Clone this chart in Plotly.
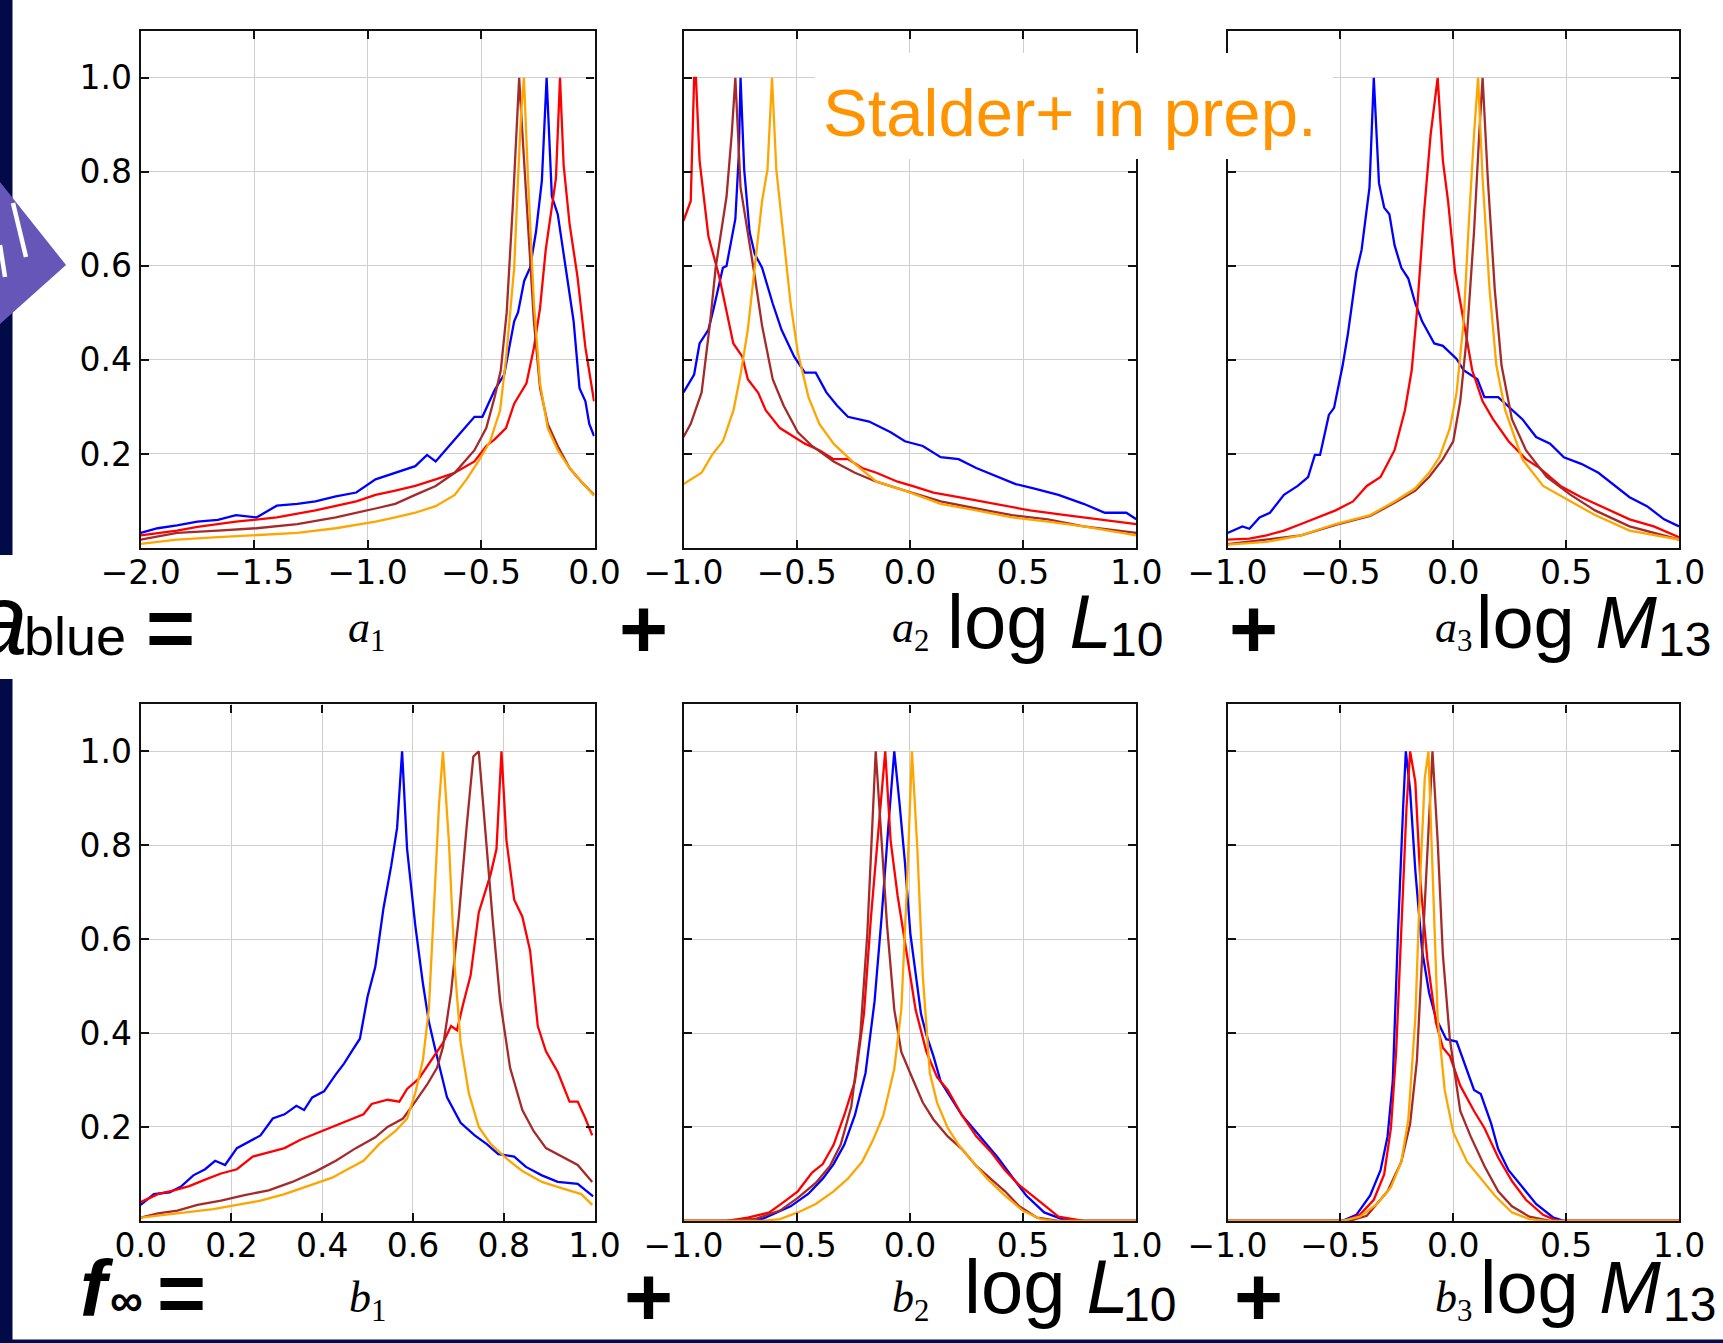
import plotly.graph_objects as go

W, H = 1723, 1343

# ---------------- data ----------------
# panel a1
a1_blue_x = [-2.0, -1.925, -1.84, -1.75, -1.66, -1.58, -1.49, -1.40, -1.31, -1.23, -1.14, -1.05, -0.965, -0.878, -0.79, -0.738, -0.70, -0.616, -0.529, -0.494, -0.44, -0.398, -0.37, -0.354, -0.337, -0.31, -0.284, -0.258, -0.232, -0.211, -0.188, -0.162, -0.127, -0.092, -0.066, -0.04, -0.023, -0.002]
a1_blue_y = [0.032, 0.042, 0.048, 0.056, 0.060, 0.070, 0.065, 0.090, 0.094, 0.099, 0.110, 0.118, 0.146, 0.160, 0.174, 0.198, 0.184, 0.231, 0.279, 0.279, 0.336, 0.369, 0.445, 0.482, 0.501, 0.568, 0.596, 0.672, 0.781, 1.0, 0.748, 0.710, 0.596, 0.482, 0.340, 0.312, 0.264, 0.238]
a1_red_x = [-2.0, -1.925, -1.84, -1.75, -1.58, -1.40, -1.23, -1.05, -0.965, -0.878, -0.79, -0.70, -0.616, -0.529, -0.477, -0.44, -0.39, -0.354, -0.30, -0.267, -0.24, -0.215, -0.188, -0.17, -0.152, -0.136, -0.11, -0.075, -0.04, -0.002]
a1_red_y = [0.027, 0.032, 0.037, 0.045, 0.056, 0.065, 0.080, 0.099, 0.113, 0.122, 0.132, 0.146, 0.160, 0.184, 0.217, 0.231, 0.255, 0.307, 0.350, 0.426, 0.510, 0.634, 0.720, 0.786, 1.0, 0.814, 0.690, 0.577, 0.426, 0.312]
a1_brown_x = [-2.0, -1.84, -1.66, -1.49, -1.31, -1.14, -0.965, -0.878, -0.79, -0.70, -0.616, -0.529, -0.477, -0.44, -0.413, -0.387, -0.36, -0.345, -0.332, -0.32, -0.293, -0.267, -0.24, -0.206, -0.162, -0.11, -0.058, -0.002]
a1_brown_y = [0.018, 0.032, 0.037, 0.042, 0.051, 0.065, 0.084, 0.094, 0.113, 0.132, 0.160, 0.208, 0.255, 0.321, 0.378, 0.501, 0.728, 0.862, 1.0, 0.900, 0.690, 0.482, 0.340, 0.264, 0.217, 0.170, 0.141, 0.113]
a1_orange_x = [-2.0, -1.84, -1.66, -1.49, -1.31, -1.14, -0.965, -0.878, -0.79, -0.70, -0.616, -0.564, -0.512, -0.46, -0.416, -0.389, -0.354, -0.337, -0.323, -0.311, -0.293, -0.267, -0.24, -0.206, -0.162, -0.11, -0.058, -0.002]
a1_orange_y = [0.009, 0.018, 0.023, 0.027, 0.032, 0.042, 0.056, 0.065, 0.075, 0.089, 0.113, 0.146, 0.184, 0.227, 0.293, 0.407, 0.596, 0.786, 0.928, 1.0, 0.786, 0.520, 0.350, 0.255, 0.208, 0.170, 0.141, 0.111]

# panel a2
a2_blue_x = [-1.0, -0.953, -0.929, -0.89, -0.866, -0.826, -0.81, -0.771, -0.756, -0.748, -0.732, -0.708, -0.685, -0.653, -0.606, -0.567, -0.511, -0.464, -0.416, -0.369, -0.322, -0.274, -0.18, -0.085, -0.022, 0.057, 0.136, 0.215, 0.293, 0.388, 0.467, 0.546, 0.656, 0.767, 0.861, 0.956, 1.0]
a2_blue_y = [0.331, 0.369, 0.435, 0.464, 0.511, 0.596, 0.600, 0.700, 0.833, 1.0, 0.805, 0.672, 0.625, 0.596, 0.520, 0.464, 0.407, 0.373, 0.373, 0.331, 0.303, 0.279, 0.269, 0.246, 0.227, 0.217, 0.193, 0.189, 0.170, 0.151, 0.136, 0.127, 0.113, 0.094, 0.075, 0.075, 0.061]
a2_red_x = [-1.0, -0.968, -0.953, -0.945, -0.929, -0.89, -0.842, -0.81, -0.78, -0.74, -0.716, -0.67, -0.637, -0.574, -0.527, -0.464, -0.40, -0.337, -0.274, -0.211, -0.148, -0.054, 0.01, 0.104, 0.215, 0.372, 0.53, 0.688, 0.845, 1.0]
a2_red_y = [0.696, 0.738, 1.0, 1.0, 0.824, 0.663, 0.577, 0.501, 0.435, 0.407, 0.359, 0.330, 0.293, 0.255, 0.241, 0.222, 0.208, 0.189, 0.189, 0.170, 0.160, 0.141, 0.132, 0.118, 0.108, 0.094, 0.080, 0.070, 0.061, 0.051]
a2_brown_x = [-1.0, -0.968, -0.92, -0.882, -0.858, -0.826, -0.81, -0.787, -0.771, -0.748, -0.716, -0.685, -0.653, -0.606, -0.558, -0.495, -0.432, -0.337, -0.243, -0.148, -0.022, 0.136, 0.293, 0.451, 0.609, 0.767, 1.0]
a2_brown_y = [0.236, 0.264, 0.331, 0.482, 0.596, 0.690, 0.747, 0.880, 1.0, 0.767, 0.672, 0.577, 0.473, 0.359, 0.303, 0.246, 0.217, 0.184, 0.160, 0.141, 0.122, 0.099, 0.084, 0.070, 0.061, 0.046, 0.032]
a2_orange_x = [-1.0, -0.92, -0.874, -0.826, -0.779, -0.748, -0.716, -0.685, -0.653, -0.629, -0.609, -0.59, -0.558, -0.527, -0.495, -0.448, -0.40, -0.337, -0.243, -0.148, -0.022, 0.136, 0.293, 0.451, 0.609, 0.767, 1.0]
a2_orange_y = [0.136, 0.160, 0.198, 0.227, 0.293, 0.369, 0.464, 0.596, 0.738, 0.805, 1.0, 0.805, 0.663, 0.520, 0.416, 0.321, 0.264, 0.222, 0.179, 0.141, 0.122, 0.094, 0.080, 0.065, 0.056, 0.046, 0.027]

# panel a3
a3_blue_x = [-1.0, -0.934, -0.903, -0.858, -0.812, -0.75, -0.689, -0.643, -0.613, -0.59, -0.551, -0.528, -0.49, -0.467, -0.429, -0.406, -0.371, -0.352, -0.329, -0.306, -0.283, -0.26, -0.23, -0.199, -0.168, -0.138, -0.084, -0.046, 0.015, 0.046, 0.107, 0.138, 0.199, 0.26, 0.306, 0.367, 0.429, 0.49, 0.567, 0.643, 0.72, 0.781, 0.858, 0.934, 1.0]
a3_blue_y = [0.032, 0.046, 0.041, 0.065, 0.075, 0.113, 0.132, 0.151, 0.198, 0.198, 0.283, 0.298, 0.388, 0.454, 0.587, 0.634, 0.767, 1.0, 0.776, 0.724, 0.710, 0.644, 0.596, 0.573, 0.520, 0.482, 0.435, 0.430, 0.402, 0.378, 0.359, 0.321, 0.321, 0.293, 0.274, 0.236, 0.222, 0.193, 0.179, 0.160, 0.132, 0.108, 0.089, 0.061, 0.046]
a3_red_x = [-1.0, -0.903, -0.827, -0.75, -0.674, -0.598, -0.521, -0.444, -0.383, -0.322, -0.26, -0.214, -0.184, -0.161, -0.13, -0.10, -0.069, -0.046, -0.023, 0.008, 0.046, 0.084, 0.13, 0.176, 0.245, 0.322, 0.383, 0.475, 0.567, 0.674, 0.781, 0.888, 1.0]
a3_red_y = [0.018, 0.020, 0.027, 0.037, 0.051, 0.065, 0.080, 0.099, 0.132, 0.151, 0.208, 0.293, 0.378, 0.501, 0.710, 0.880, 1.0, 0.824, 0.738, 0.587, 0.482, 0.378, 0.312, 0.274, 0.227, 0.189, 0.170, 0.132, 0.108, 0.084, 0.061, 0.046, 0.023]
a3_brown_x = [-1.0, -0.674, -0.521, -0.368, -0.26, -0.168, -0.107, -0.046, 0.0, 0.031, 0.061, 0.092, 0.115, 0.13, 0.153, 0.184, 0.214, 0.26, 0.322, 0.414, 0.52, 0.628, 0.781, 1.0]
a3_brown_y = [0.008, 0.027, 0.049, 0.068, 0.096, 0.122, 0.151, 0.189, 0.227, 0.312, 0.454, 0.672, 0.880, 1.0, 0.786, 0.549, 0.388, 0.274, 0.208, 0.151, 0.113, 0.080, 0.046, 0.018]
a3_orange_x = [-1.0, -0.827, -0.674, -0.521, -0.368, -0.26, -0.168, -0.107, -0.061, -0.015, 0.015, 0.046, 0.069, 0.092, 0.11, 0.13, 0.161, 0.191, 0.23, 0.306, 0.398, 0.505, 0.628, 0.781, 1.0]
a3_orange_y = [0.007, 0.013, 0.027, 0.051, 0.070, 0.099, 0.127, 0.160, 0.193, 0.255, 0.331, 0.482, 0.691, 0.880, 1.0, 0.786, 0.549, 0.388, 0.293, 0.189, 0.132, 0.103, 0.070, 0.037, 0.018]

# panel b1
b1_blue_x = [0.0, 0.029, 0.064, 0.09, 0.116, 0.142, 0.164, 0.186, 0.212, 0.238, 0.264, 0.291, 0.317, 0.343, 0.36, 0.378, 0.404, 0.43, 0.448, 0.465, 0.483, 0.50, 0.517, 0.535, 0.552, 0.565, 0.576, 0.587, 0.605, 0.622, 0.635, 0.648, 0.675, 0.705, 0.736, 0.762, 0.788, 0.823, 0.849, 0.884, 0.919, 0.963, 0.997]
b1_blue_y = [0.034, 0.057, 0.061, 0.074, 0.097, 0.110, 0.128, 0.119, 0.155, 0.169, 0.182, 0.218, 0.227, 0.245, 0.236, 0.263, 0.276, 0.312, 0.335, 0.361, 0.388, 0.478, 0.541, 0.666, 0.756, 0.837, 1.0, 0.792, 0.630, 0.505, 0.424, 0.370, 0.263, 0.209, 0.182, 0.164, 0.142, 0.137, 0.115, 0.097, 0.083, 0.079, 0.052]
b1_red_x = [0.0, 0.038, 0.073, 0.107, 0.142, 0.177, 0.212, 0.247, 0.282, 0.317, 0.352, 0.387, 0.422, 0.456, 0.491, 0.509, 0.544, 0.57, 0.587, 0.613, 0.64, 0.666, 0.684, 0.697, 0.71, 0.727, 0.745, 0.771, 0.784, 0.795, 0.806, 0.823, 0.841, 0.858, 0.875, 0.893, 0.919, 0.945, 0.963, 0.98, 0.995]
b1_red_y = [0.040, 0.057, 0.065, 0.074, 0.088, 0.101, 0.110, 0.137, 0.146, 0.155, 0.173, 0.187, 0.200, 0.213, 0.227, 0.249, 0.258, 0.254, 0.281, 0.303, 0.343, 0.379, 0.415, 0.406, 0.460, 0.523, 0.657, 0.738, 0.792, 1.0, 0.810, 0.684, 0.648, 0.576, 0.415, 0.361, 0.317, 0.254, 0.254, 0.218, 0.182]
b1_brown_x = [0.0, 0.038, 0.081, 0.125, 0.177, 0.229, 0.282, 0.334, 0.387, 0.43, 0.474, 0.517, 0.544, 0.578, 0.605, 0.631, 0.653, 0.666, 0.684, 0.701, 0.718, 0.733, 0.745, 0.757, 0.775, 0.792, 0.814, 0.841, 0.866, 0.893, 0.927, 0.963, 0.995]
b1_brown_y = [0.007, 0.016, 0.022, 0.034, 0.043, 0.055, 0.065, 0.083, 0.106, 0.128, 0.155, 0.178, 0.200, 0.218, 0.254, 0.290, 0.326, 0.370, 0.487, 0.648, 0.837, 0.989, 1.0, 0.855, 0.648, 0.469, 0.326, 0.236, 0.191, 0.155, 0.137, 0.119, 0.083]
b1_orange_x = [0.0, 0.055, 0.107, 0.16, 0.212, 0.264, 0.317, 0.369, 0.422, 0.456, 0.491, 0.526, 0.561, 0.587, 0.605, 0.622, 0.635, 0.648, 0.657, 0.666, 0.679, 0.692, 0.705, 0.723, 0.745, 0.771, 0.806, 0.841, 0.884, 0.927, 0.971, 0.995]
b1_orange_y = [0.007, 0.013, 0.019, 0.025, 0.034, 0.043, 0.057, 0.074, 0.092, 0.110, 0.128, 0.164, 0.191, 0.218, 0.272, 0.343, 0.451, 0.702, 0.881, 1.0, 0.810, 0.541, 0.379, 0.272, 0.200, 0.164, 0.133, 0.106, 0.083, 0.070, 0.057, 0.034]

# panel b2
b2_blue_x = [-1.0, -0.81, -0.653, -0.527, -0.448, -0.385, -0.337, -0.29, -0.243, -0.196, -0.156, -0.125, -0.093, -0.069, -0.046, -0.022, 0.002, 0.025, 0.049, 0.073, 0.104, 0.136, 0.183, 0.23, 0.278, 0.325, 0.388, 0.451, 0.514, 0.593, 0.672, 0.767, 1.0]
b2_blue_y = [0.0, 0.0, 0.004, 0.031, 0.058, 0.090, 0.121, 0.162, 0.225, 0.315, 0.468, 0.647, 0.854, 1.0, 0.890, 0.764, 0.612, 0.522, 0.441, 0.396, 0.351, 0.297, 0.261, 0.225, 0.198, 0.171, 0.135, 0.094, 0.054, 0.018, 0.004, 0.0, 0.0]
b2_red_x = [-1.0, -0.81, -0.716, -0.621, -0.558, -0.495, -0.432, -0.385, -0.337, -0.29, -0.243, -0.203, -0.172, -0.14, -0.109, -0.085, -0.054, -0.022, 0.025, 0.073, 0.12, 0.167, 0.23, 0.293, 0.356, 0.42, 0.483, 0.577, 0.656, 0.767, 1.0]
b2_red_y = [0.0, 0.0, 0.007, 0.018, 0.040, 0.063, 0.103, 0.121, 0.162, 0.225, 0.297, 0.441, 0.647, 0.836, 1.0, 0.809, 0.692, 0.594, 0.450, 0.360, 0.306, 0.279, 0.225, 0.180, 0.148, 0.108, 0.076, 0.040, 0.009, 0.0, 0.0]
b2_brown_x = [-1.0, -0.81, -0.685, -0.574, -0.495, -0.416, -0.353, -0.306, -0.259, -0.219, -0.188, -0.151, -0.125, -0.101, -0.069, -0.038, 0.009, 0.057, 0.104, 0.167, 0.23, 0.293, 0.356, 0.42, 0.483, 0.562, 0.656, 1.0]
b2_brown_y = [0.0, 0.0, 0.004, 0.022, 0.049, 0.081, 0.117, 0.162, 0.243, 0.396, 0.612, 1.0, 0.809, 0.630, 0.450, 0.360, 0.306, 0.252, 0.216, 0.180, 0.153, 0.117, 0.090, 0.063, 0.031, 0.007, 0.0, 0.0]
b2_orange_x = [-1.0, -0.653, -0.574, -0.495, -0.416, -0.337, -0.274, -0.211, -0.164, -0.117, -0.069, -0.038, -0.014, 0.009, 0.033, 0.057, 0.088, 0.12, 0.167, 0.215, 0.278, 0.341, 0.42, 0.498, 0.577, 0.64, 1.0]
b2_orange_y = [0.0, 0.0, 0.004, 0.018, 0.036, 0.063, 0.090, 0.126, 0.171, 0.225, 0.324, 0.450, 0.701, 1.0, 0.791, 0.522, 0.315, 0.252, 0.198, 0.162, 0.126, 0.090, 0.054, 0.022, 0.004, 0.0, 0.0]

# panel b3
b3_blue_x = [-1.0, -0.49, -0.429, -0.368, -0.322, -0.291, -0.268, -0.245, -0.222, -0.21, -0.191, -0.168, -0.138, -0.107, -0.077, -0.031, 0.015, 0.046, 0.092, 0.122, 0.168, 0.199, 0.245, 0.306, 0.367, 0.444, 0.49, 1.0]
b3_blue_y = [0.0, 0.0, 0.013, 0.054, 0.108, 0.180, 0.297, 0.612, 0.881, 1.0, 0.917, 0.746, 0.576, 0.486, 0.432, 0.387, 0.382, 0.342, 0.279, 0.270, 0.207, 0.153, 0.108, 0.072, 0.036, 0.007, 0.0, 0.0]
b3_red_x = [-1.0, -0.475, -0.414, -0.352, -0.306, -0.276, -0.253, -0.23, -0.207, -0.191, -0.168, -0.145, -0.115, -0.077, -0.046, -0.015, 0.031, 0.092, 0.138, 0.199, 0.26, 0.322, 0.398, 0.46, 1.0]
b3_red_y = [0.0, 0.0, 0.013, 0.045, 0.099, 0.198, 0.360, 0.612, 0.881, 1.0, 0.935, 0.719, 0.558, 0.423, 0.369, 0.351, 0.288, 0.234, 0.198, 0.135, 0.085, 0.045, 0.013, 0.0, 0.0]
b3_brown_x = [-1.0, -0.46, -0.383, -0.291, -0.23, -0.191, -0.161, -0.138, -0.115, -0.092, -0.069, -0.046, -0.015, 0.031, 0.077, 0.138, 0.199, 0.26, 0.337, 0.429, 1.0]
b3_brown_y = [0.0, 0.0, 0.011, 0.063, 0.126, 0.207, 0.342, 0.567, 0.791, 1.0, 0.809, 0.567, 0.387, 0.234, 0.180, 0.117, 0.063, 0.031, 0.009, 0.0, 0.0]
b3_orange_x = [-1.0, -0.49, -0.414, -0.337, -0.276, -0.23, -0.199, -0.168, -0.145, -0.126, -0.11, -0.092, -0.069, -0.038, 0.0, 0.061, 0.122, 0.184, 0.26, 0.337, 0.413, 1.0]
b3_orange_y = [0.0, 0.0, 0.009, 0.036, 0.072, 0.126, 0.216, 0.432, 0.746, 0.944, 1.0, 0.764, 0.432, 0.279, 0.189, 0.126, 0.090, 0.054, 0.018, 0.004, 0.0, 0.0]

series_colors = {"blue": "#0000FF", "red": "#FF0000", "brown": "#A52A2A", "orange": "#FFA500"}

panels = [
    ("a1", [-2.0, 0.0], [-2.0, -1.5, -1.0, -0.5, 0.0]),
    ("a2", [-1.0, 1.0], [-1.0, -0.5, 0.0, 0.5, 1.0]),
    ("a3", [-1.0, 1.0], [-1.0, -0.5, 0.0, 0.5, 1.0]),
    ("b1", [0.0, 1.0], [0.0, 0.2, 0.4, 0.6, 0.8, 1.0]),
    ("b2", [-1.0, 1.0], [-1.0, -0.5, 0.0, 0.5, 1.0]),
    ("b3", [-1.0, 1.0], [-1.0, -0.5, 0.0, 0.5, 1.0]),
]
y_ticks = [0.2, 0.4, 0.6, 0.8, 1.0]

# ---------------- layout geometry ----------------
def px_x(v):
    return v / W

def px_y(v):
    return 1 - v / H

col_px = [(140.7, 594.5), (683.5, 1136.3), (1227.5, 1679.0)]
row_px = [(30.8, 548.0), (704.4, 1220.9)]

def fmt(v):
    s = f"{v:.1f}"
    return s.replace("-", "\u2212")

fig = go.Figure()
g = globals()
for i, (name, xr, xt) in enumerate(panels):
    n = i + 1
    xa = "x" if n == 1 else f"x{n}"
    ya = "y" if n == 1 else f"y{n}"
    for s in ["blue", "red", "brown", "orange"]:
        fig.add_trace(go.Scatter(
            x=g[f"{name}_{s}_x"], y=g[f"{name}_{s}_y"], mode="lines",
            line=dict(color=series_colors[s], width=2.3),
            xaxis=xa, yaxis=ya, showlegend=False, hoverinfo="skip"))
    c, r = i % 3, i // 3
    common = dict(showline=True, linecolor="#111111", linewidth=2.2, mirror="ticks",
                  ticks="inside", ticklen=8, tickwidth=1.5, tickcolor="#111111",
                  showgrid=True, gridcolor="#cfcfcf", gridwidth=1, zeroline=False,
                  automargin=False,
                  tickfont=dict(family="DejaVu Sans", size=33, color="black"))
    xkey = "xaxis" if n == 1 else f"xaxis{n}"
    ykey = "yaxis" if n == 1 else f"yaxis{n}"
    fig.update_layout(**{
        xkey: dict(common, domain=[px_x(col_px[c][0]), px_x(col_px[c][1])], range=xr,
                   tickvals=xt, ticktext=[fmt(v) for v in xt], anchor=ya,
                   ticklabelstandoff=-6),
        ykey: dict(common, domain=[px_y(row_px[r][1]), px_y(row_px[r][0])], range=[0, 1.1],
                   tickvals=y_ticks, ticktext=[fmt(v) for v in y_ticks],
                   showticklabels=(c == 0), anchor=xa, ticklabelstandoff=0),
    })

# ---------------- decorations ----------------
NAVY = "#030A48"
shapes = [
    dict(type="rect", xref="paper", yref="paper", x0=0, x1=px_x(12.5), y0=px_y(555), y1=1,
         fillcolor=NAVY, line=dict(width=0), layer="above"),
    dict(type="rect", xref="paper", yref="paper", x0=0, x1=px_x(12.5), y0=0, y1=px_y(679),
         fillcolor=NAVY, line=dict(width=0), layer="above"),
    dict(type="rect", xref="paper", yref="paper", x0=0, x1=1, y0=0, y1=px_y(1339.5),
         fillcolor=NAVY, line=dict(width=0), layer="above"),
    dict(type="path", xref="paper", yref="paper",
         path=f"M 0 {px_y(182)} L {px_x(66)} {px_y(265)} L 0 {px_y(324)} Z",
         fillcolor="#6656B8", line=dict(width=0), layer="above"),
    dict(type="line", xref="paper", yref="paper", x0=px_x(13), y0=px_y(203), x1=px_x(26), y1=px_y(257),
         line=dict(color="white", width=4.5), layer="above"),
    dict(type="line", xref="paper", yref="paper", x0=px_x(0), y0=px_y(245), x1=px_x(5), y1=px_y(277),
         line=dict(color="white", width=4.5), layer="above"),
    dict(type="rect", xref="paper", yref="paper", x0=px_x(815), x1=px_x(1333), y0=px_y(159), y1=px_y(53),
         fillcolor="white", line=dict(width=0), layer="above"),
]
fig.update_layout(shapes=shapes)

SANS = "Liberation Sans, Arial, Helvetica, sans-serif"
SERIF = "Liberation Serif, Times New Roman, serif"

def ann(text, x, y, size, family=SANS, xanchor="center", yanchor="middle", color="black"):
    return dict(text=text, x=px_x(x), y=px_y(y), xref="paper", yref="paper", showarrow=False,
                xanchor=xanchor, yanchor=yanchor, font=dict(family=family, size=size, color=color))

def base_c(baseline, size):
    return baseline - 0.347 * size

annotations = [
    ann("Stalder+ in prep.", 1070, 112, 67, color="#FF9400"),
    # top equation row
    ann("<i>a</i>", 30, base_c(654, 100), 100, xanchor="right"),
    ann("blue", 22, base_c(655, 54), 54, xanchor="left"),
    ann("<b>=</b>", 170, 628, 84),
    ann("<i>a</i><sub>1</sub>", 366, 630, 44, family=SERIF),
    ann("<b>+</b>", 643, 629, 84),
    ann("<i>a</i><sub>2</sub>", 910, 630, 44, family=SERIF),
    ann("log <i>L</i>", 945, base_c(648, 76), 76, xanchor="left"),
    ann("10", 1108, base_c(656, 48), 48, xanchor="left"),
    ann("<b>+</b>", 1253, 629, 84),
    ann("<i>a</i><sub>3</sub>", 1453, 630, 44, family=SERIF),
    ann("log <i>M</i>", 1474, base_c(648, 74), 74, xanchor="left"),
    ann("13", 1656, base_c(656, 48), 48, xanchor="left"),
    # bottom equation row
    ann("<b><i>f</i></b>", 78, base_c(1316, 80), 80, xanchor="left"),
    ann("<b>\u221e</b>", 108, base_c(1316, 46), 46, xanchor="left"),
    ann("<b>=</b>", 181, 1293, 84),
    ann("<i>b</i><sub>1</sub>", 367, 1300, 44, family=SERIF),
    ann("<b>+</b>", 648, 1297, 84),
    ann("<i>b</i><sub>2</sub>", 910, 1300, 44, family=SERIF),
    ann("log <i>L</i>", 962, base_c(1313, 76), 76, xanchor="left"),
    ann("10", 1121, base_c(1321, 48), 48, xanchor="left"),
    ann("<b>+</b>", 1258, 1297, 84),
    ann("<i>b</i><sub>3</sub>", 1453, 1300, 44, family=SERIF),
    ann("log <i>M</i>", 1478, base_c(1313, 74), 74, xanchor="left"),
    ann("13", 1661, base_c(1321, 48), 48, xanchor="left"),
]
fig.update_layout(annotations=annotations)

fig.update_layout(width=W, height=H, margin=dict(l=0, r=0, t=0, b=0, pad=0),
                  paper_bgcolor="white", plot_bgcolor="white", showlegend=False)

fig.write_html("out.html", include_plotlyjs=True, config={"displayModeBar": False},
               post_script="document.body.style.margin='0px';document.body.style.overflow='hidden';")
